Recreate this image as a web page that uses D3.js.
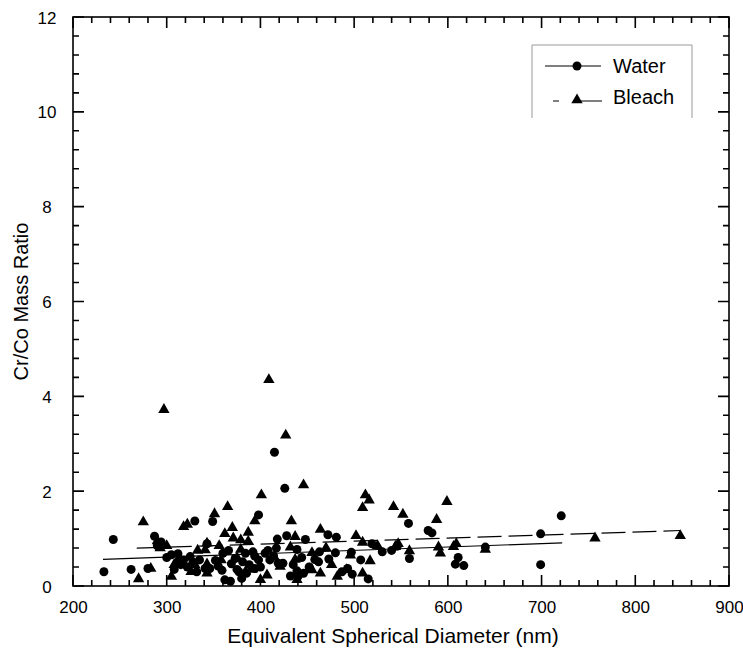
<!DOCTYPE html>
<html>
<head>
<meta charset="utf-8">
<script src="https://cdn.jsdelivr.net/npm/d3@7"></script>
<style>
  html, body { margin: 0; padding: 0; background: #fff; }
  svg { display: block; }
  text { font-family: "Liberation Sans", Arial, Helvetica, sans-serif; fill: #000; }
</style>
</head>
<body>
<svg id="chart" width="743" height="656"></svg>
<script>
// ---- data ----
const waterPoints = [
  [233,0.30],[243,0.98],[262,0.35],[280,0.37],[287,1.05],[290,0.85],[294,0.93],[300,0.60],[305,0.66],
  [308,0.35],[312,0.68],[315,0.45],[318,0.55],[322,0.40],[325,0.62],[330,1.37],[332,0.30],[328,0.50],
  [335,0.55],[341,0.37],[343,0.89],[346,0.37],[349,1.36],[352,0.54],[359,0.33],[360,0.69],[362,0.13],
  [366,0.75],[369,0.47],[373,0.58],[375,0.35],[380,0.16],[381,0.51],[384,0.69],[385,0.27],[392,0.72],
  [394,0.63],[394,0.37],[398,1.50],[398,0.55],[405,0.69],[410,0.55],[414,0.64],[415,2.82],[417,0.80],
  [418,0.99],[419,0.48],[424,0.48],[426,2.06],[428,1.06],[432,0.21],[439,0.32],[439,0.77],[440,0.20],
  [444,0.60],[446,0.27],[448,0.98],[458,0.56],[462,0.51],[463,0.72],[472,1.08],[473,0.57],[480,0.70],
  [481,1.03],[493,0.37],[497,0.71],[507,0.55],[519,0.89],[530,0.72],[546,0.84],[558,1.32],[559,0.58],
  [579,1.17],[583,1.12],[608,0.46],[611,0.60],[617,0.43],[640,0.82],[699,1.10],[699,0.45],[721,1.48],
  [355,0.42],[368,0.10],[377,0.30],[388,0.45],[400,0.40],[408,0.75],[435,0.45],[452,0.40],[487,0.30],
  [498,0.25],[515,0.15],[540,0.75]
];
const bleachPoints = [
  [270,0.15],[275,1.35],[283,0.37],[290,0.95],[293,0.80],[297,3.72],[300,0.85],[305,0.20],[308,0.45],
  [312,0.55],[318,1.25],[322,1.30],[326,0.30],[330,0.45],[333,0.75],[341,0.76],[343,0.90],[343,0.27],
  [343,0.46],[351,1.52],[356,0.85],[362,1.10],[365,1.67],[370,1.23],[371,1.01],[379,0.97],[379,0.77],
  [387,1.13],[387,0.94],[391,0.35],[394,1.37],[400,0.13],[401,1.92],[407,0.23],[409,4.35],[421,0.41],
  [427,3.18],[432,0.82],[433,1.37],[437,1.04],[437,0.56],[439,0.13],[446,2.13],[452,0.36],[455,0.70],
  [455,0.34],[464,1.19],[464,0.27],[482,0.20],[492,0.34],[502,1.06],[509,0.92],[509,0.27],[509,1.65],
  [512,1.92],[516,1.81],[517,0.53],[542,1.67],[544,0.83],[547,0.89],[552,1.51],[559,0.74],[588,1.40],
  [590,0.82],[592,0.69],[599,1.78],[606,0.83],[609,0.89],[640,0.77],[757,1.01],[848,1.06],
  [358,0.55],[375,0.60],[384,0.30],[415,0.60],[470,0.80],[476,0.45],[496,0.65],[525,0.85]
];
const waterFit = [[232,0.56],[722,0.91]];
const bleachFit = [[268,0.80],[848,1.17]];
const xTicks = [200,300,400,500,600,700,800,900];
const yTicks = [0,2,4,6,8,10,12];
const seriesNames = ["Water","Bleach"];
const xTitle = "Equivalent Spherical Diameter (nm)";
const yTitle = "Cr/Co Mass Ratio";

// ---- layout ----
const svg = d3.select("#chart");
const L = 73, R = 729, T = 17, B = 586;
const x = d3.scaleLinear().domain([200,900]).range([L,R]);
const y = d3.scaleLinear().domain([0,12]).range([B,T]);

const xMinor = d3.range(0, 36).map(i => 200 + i * 20);
const yMinor = d3.range(0, 31).map(i => +(i * 0.4).toFixed(2));

// frame
svg.append("rect").attr("x",L).attr("y",T).attr("width",R-L).attr("height",B-T)
  .attr("fill","none").attr("stroke","#000").attr("stroke-width",1.6);

// inward ticks on all four sides, one path per side built from the scales
function tickPath(side) {
  let d = "";
  if (side === "bottom" || side === "top") {
    const y0 = side === "bottom" ? B : T, s = side === "bottom" ? -1 : 1;
    xMinor.forEach((v, i) => {
      const len = i % 5 === 0 ? 11 : 6;
      d += `M${x(v)},${y0}V${y0 + s * len}`;
    });
  } else {
    const x0 = side === "left" ? L : R, s = side === "left" ? 1 : -1;
    yMinor.forEach((v, i) => {
      const len = i % 5 === 0 ? 11 : 6;
      d += `M${x0},${y(v)}H${x0 + s * len}`;
    });
  }
  return d;
}
["bottom","top","left","right"].forEach(side => {
  svg.append("path").attr("d", tickPath(side)).attr("fill","none")
    .attr("stroke","#000").attr("stroke-width",1.6);
});

// tick labels
const gx = svg.append("g").attr("transform",`translate(0,${B})`)
  .call(d3.axisBottom(x).tickValues(xTicks).tickSize(0).tickPadding(0));
gx.select(".domain").remove();
gx.selectAll("text").attr("y",27).attr("dy",null).style("font-size","17px")
  .style("font-family","'Liberation Sans', Arial, sans-serif").attr("fill","#000");

const gy = svg.append("g").attr("transform",`translate(${L},0)`)
  .call(d3.axisLeft(y).tickValues(yTicks).tickSize(0).tickPadding(0));
gy.select(".domain").remove();
gy.selectAll("text").attr("x",-26).attr("text-anchor","middle").attr("dy","0.36em")
  .style("font-size","17px").style("font-family","'Liberation Sans', Arial, sans-serif").attr("fill","#000");

// titles
svg.append("text").attr("x",(L+R)/2 - 8).attr("y",643).attr("text-anchor","middle")
  .style("font-size","21px").text(xTitle);
svg.append("text").attr("transform",`translate(28,${(T+B)/2}) rotate(-90)`).attr("text-anchor","middle")
  .style("font-size","20px").text(yTitle);

// fit lines
const line = d3.line().x(d => x(d[0])).y(d => y(d[1]));
svg.append("path").datum(waterFit).attr("d",line).attr("fill","none")
  .attr("stroke","#000").attr("stroke-width",1.2);
svg.append("path").datum(bleachFit).attr("d",line).attr("fill","none")
  .attr("stroke","#000").attr("stroke-width",1.2).attr("stroke-dasharray","24,7");

// points
const tri = d3.symbol().type(d3.symbolTriangle).size(56);
svg.append("g").selectAll("path").data(bleachPoints).join("path")
  .attr("d",tri).attr("transform",d => `translate(${x(d[0])},${y(d[1])})`).attr("fill","#000");
svg.append("g").selectAll("circle").data(waterPoints).join("circle")
  .attr("cx",d => x(d[0])).attr("cy",d => y(d[1])).attr("r",4.5).attr("fill","#000");

// legend
const lg = svg.append("g");
lg.append("path").attr("d","M532,118 V45 H692 V118").attr("fill","none")
  .attr("stroke","#999").attr("stroke-width",1);
lg.append("line").attr("x1",545).attr("x2",601).attr("y1",66).attr("y2",66)
  .attr("stroke","#000").attr("stroke-width",1.2);
lg.append("circle").attr("cx",577).attr("cy",66).attr("r",4.5).attr("fill","#000");
lg.append("text").attr("x",613).attr("y",73).style("font-size","20px").text(seriesNames[0]);
lg.append("line").attr("x1",553).attr("x2",602).attr("y1",101).attr("y2",101)
  .attr("stroke","#000").attr("stroke-width",1.2).attr("stroke-dasharray","6,14,30");
lg.append("path").attr("d",tri).attr("transform","translate(577,100)").attr("fill","#000");
lg.append("text").attr("x",613).attr("y",104).style("font-size","20px").text(seriesNames[1]);
</script>
</body>
</html>
